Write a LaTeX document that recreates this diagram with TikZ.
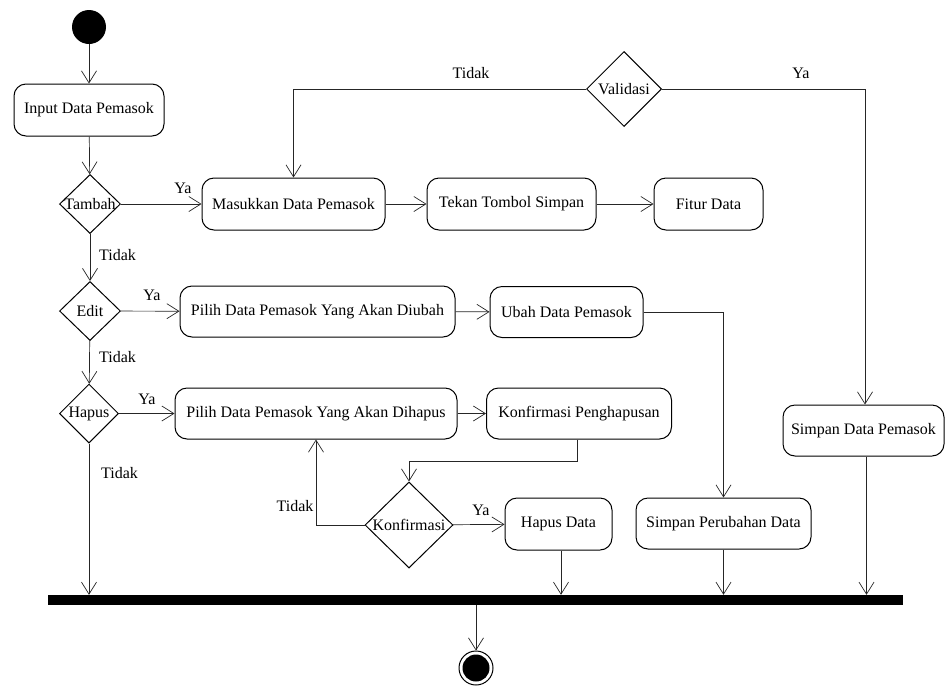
\documentclass[tikz,border=0pt]{standalone}
\usepackage{fontspec}
\setmainfont{Liberation Serif}
\newfontfamily\tnr{Liberation Serif}
\usetikzlibrary{arrows.meta,shapes.geometric}
\tikzset{
  act/.style={draw, line width=1pt, rounded corners=12pt, rectangle, inner sep=0pt, font=\tnr\fontsize{16}{18}\selectfont},
  dec/.style={draw, line width=1pt, diamond, inner sep=0pt},
  lbl/.style={font=\tnr\fontsize{16}{18}\selectfont, inner sep=0pt},
  flow/.style={draw=black!85, line width=0.7pt, -{Straight Barb[length=12pt,width=15pt]}},
}
\begin{document}
\begin{tikzpicture}[x=1pt,y=-1pt]
\useasboundingbox (0,0) rectangle (945,686);
% nodes
\node[circle, fill=black, minimum size=34pt, inner sep=0pt] (start) at (89,27) {};
\node[act, minimum width=150pt, minimum height=52pt] (input) at (89,110) {Input Data Pemasok};
\node[dec, minimum width=61pt, minimum height=59pt, label={[lbl]center:Tambah}] (tambah) at (90,204) {};
\node[act, minimum width=183pt, minimum height=52pt] (masuk) at (293.5,204) {Masukkan Data Pemasok};
\node[act, minimum width=169pt, minimum height=52pt] (tekan) at (511.5,204) {Tekan Tombol Simpan};
\node[act, minimum width=109pt, minimum height=52pt] (fitur) at (708.5,204) {Fitur Data};
\node[dec, minimum width=75pt, minimum height=75pt, label={[lbl]center:Validasi}] (validasi) at (624,89) {};
\node[act, minimum width=161pt, minimum height=51pt] (simpan) at (863.5,430.5) {Simpan Data Pemasok};
\node[dec, minimum width=61pt, minimum height=59pt, label={[lbl]center:Edit}] (edit) at (90,311) {};
\node[act, minimum width=275pt, minimum height=51pt] (diubah) at (317.5,311.5) {Pilih Data Pemasok Yang Akan Diubah};
\node[act, minimum width=153pt, minimum height=51pt] (ubah) at (566.5,312) {Ubah Data Pemasok};
\node[dec, minimum width=59pt, minimum height=59pt, label={[lbl]center:Hapus}] (hapus) at (89,413.5) {};
\node[act, minimum width=282pt, minimum height=51pt] (dihapus) at (316,413.5) {Pilih Data Pemasok Yang Akan Dihapus};
\node[act, minimum width=185pt, minimum height=51pt] (konfpeng) at (579,413.5) {Konfirmasi Penghapusan};
\node[dec, minimum width=88pt, minimum height=86pt, label={[lbl]center:Konfirmasi}] (konf) at (409,525) {};
\node[act, minimum width=107pt, minimum height=52pt] (hapusdata) at (558.5,524) {Hapus Data};
\node[act, minimum width=175pt, minimum height=51pt] (simperub) at (723.5,523.5) {Simpan Perubahan Data};
\node[rectangle, fill=black, minimum width=855pt, minimum height=10pt, inner sep=0pt] (bar) at (475.5,600) {};
\node[circle, draw, line width=1pt, minimum size=34pt, inner sep=0pt] (end) at (476,668) {};
\node[circle, fill=black, minimum size=27pt, inner sep=0pt] (endin) at (476,668) {};
% connectors
\draw[flow] (start) -- (input);
\draw[flow] (input) -- (tambah);
\draw[flow] (tambah) -- (masuk);
\node[lbl] (yaT) at (183,188) {Ya};
\draw[flow] (masuk) -- (tekan);
\draw[flow] (tekan) -- (fitur);
\draw[flow] (validasi.west) -| (masuk.north);
\node[lbl] (tidakV) at (471,73) {Tidak};
\draw[flow] (validasi.east) -| ([xshift=1.5pt]simpan.north);
\node[lbl] (yaV) at (801,73) {Ya};
\draw[flow] (tambah) -- (edit);
\node[lbl, anchor=west] (tidakT) at (99,255) {Tidak};
\draw[flow] (edit) -- (diubah);
\node[lbl] (yaE) at (152,295) {Ya};
\draw[flow] (diubah) -- (ubah);
\draw[flow] (ubah.east) -| (simperub.north);
\draw[flow] (edit) -- (hapus);
\node[lbl, anchor=west] (tidakE) at (99,357) {Tidak};
\draw[flow] (hapus) -- (dihapus);
\node[lbl] (yaH) at (147,399) {Ya};
\draw[flow] (dihapus) -- (konfpeng);
\draw[flow] ([xshift=-2pt]konfpeng.south) -- ++(0,22) -| (konf.north);
\draw[flow] (konf.west) -| (dihapus.south);
\node[lbl] (tidakK) at (295,506) {Tidak};
\draw[flow] (konf) -- (hapusdata);
\node[lbl] (yaK) at (481,510) {Ya};
\draw[flow] (hapus.south) -- (hapus.south |- bar.north);
\node[lbl, anchor=west] (tidakH) at (101,473) {Tidak};
\draw[flow] ([xshift=2.5pt]hapusdata.south) -- ([xshift=2.5pt]hapusdata.south |- bar.north);
\draw[flow] (simperub.south) -- (simperub.south |- bar.north);
\draw[flow] ([xshift=3pt]simpan.south) -- ([xshift=3pt]simpan.south |- bar.north);
\draw[flow] (bar.south -| end.north) -- (end.north);
\end{tikzpicture}
\end{document}
